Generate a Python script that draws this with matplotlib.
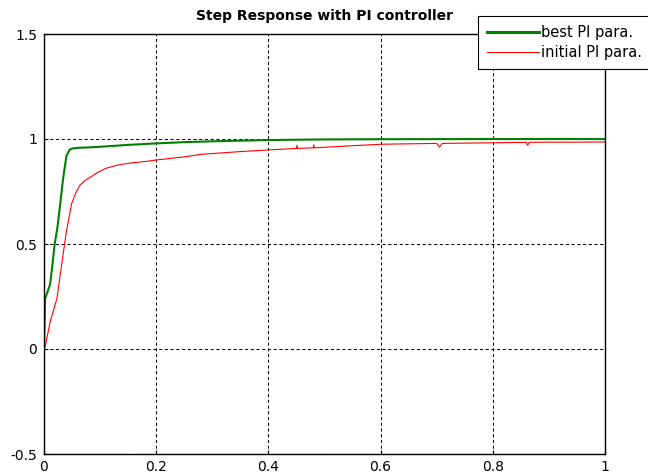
import matplotlib
matplotlib.use("Agg")
import matplotlib.pyplot as plt

plt.rcParams['font.family'] = ['DejaVu Sans']

# time (s) and response values
t_best = [0.0, 0.002, 0.006, 0.011, 0.015, 0.019, 0.024, 0.028, 0.034, 0.040, 0.046,
          0.051, 0.06, 0.08, 0.10, 0.15, 0.20, 0.25, 0.30, 0.40, 0.50, 0.60, 0.80, 1.0]
y_best = [0.0, 0.24, 0.27, 0.31, 0.40, 0.50, 0.58, 0.67, 0.81, 0.92, 0.95,
          0.955, 0.958, 0.96, 0.963, 0.972, 0.979, 0.985, 0.989, 0.995, 0.998, 0.999, 1.0, 1.0]

t_init = [0.0, 0.002, 0.011, 0.023, 0.034, 0.040, 0.049, 0.056, 0.064, 0.072, 0.081, 0.095,
          0.11, 0.13, 0.152, 0.187, 0.20, 0.25, 0.28, 0.35, 0.40, 0.45, 0.451, 0.452, 0.48,
          0.481, 0.482, 0.55, 0.60, 0.70, 0.705, 0.71, 0.80, 0.86, 0.862, 0.865, 0.90, 0.95, 1.0]
y_init = [0.0, 0.01, 0.13, 0.24, 0.45, 0.56, 0.69, 0.74, 0.78, 0.80, 0.815, 0.84,
          0.86, 0.875, 0.885, 0.895, 0.90, 0.915, 0.927, 0.94, 0.948, 0.955, 0.97, 0.955, 0.958,
          0.972, 0.958, 0.968, 0.975, 0.979, 0.962, 0.979, 0.982, 0.984, 0.97, 0.984, 0.985, 0.985, 0.986]

fig = plt.figure(figsize=(6.48, 4.76), dpi=100)
ax = fig.add_axes([44 / 648, 22 / 476, 561 / 648, 420 / 476])

ax.plot(t_best, y_best, color="#008000", lw=1.5, label="best PI para.")
ax.plot(t_init, y_init, color="#ff0000", lw=0.8, label="initial PI para.")

ax.set_xlim(0, 1)
ax.set_ylim(-0.5, 1.5)
ax.set_xticks([0, 0.2, 0.4, 0.6, 0.8, 1])
ax.set_xticklabels(["0", "0.2", "0.4", "0.6", "0.8", "1"])
ax.set_yticks([-0.5, 0, 0.5, 1, 1.5])
ax.set_yticklabels(["-0.5", "0", "0.5", "1", "1.5"])
ax.tick_params(direction="in", length=3, labelsize=10)
ax.tick_params(axis="x", pad=4)
ax.tick_params(axis="y", pad=5)
ax.grid(True, color="black", linestyle=(0, (3, 2.5)), lw=0.75)
for s in ax.spines.values():
    s.set_linewidth(1.0)

ax.set_title("Step Response with PI controller", fontsize=10, fontweight="bold", pad=10)

leg = ax.legend(loc="upper left", bbox_to_anchor=(478 / 648, 1 - 16 / 476),
                bbox_transform=fig.transFigure, borderaxespad=0, fancybox=False,
                framealpha=1, edgecolor="black", fontsize=10.5, handlelength=3.6,
                handletextpad=0.15, borderpad=0.6, labelspacing=0.35)
leg.get_frame().set_linewidth(0.8)
leg.legend_handles[0].set_linewidth(2.2)

fig.savefig("out.png", dpi=100)
